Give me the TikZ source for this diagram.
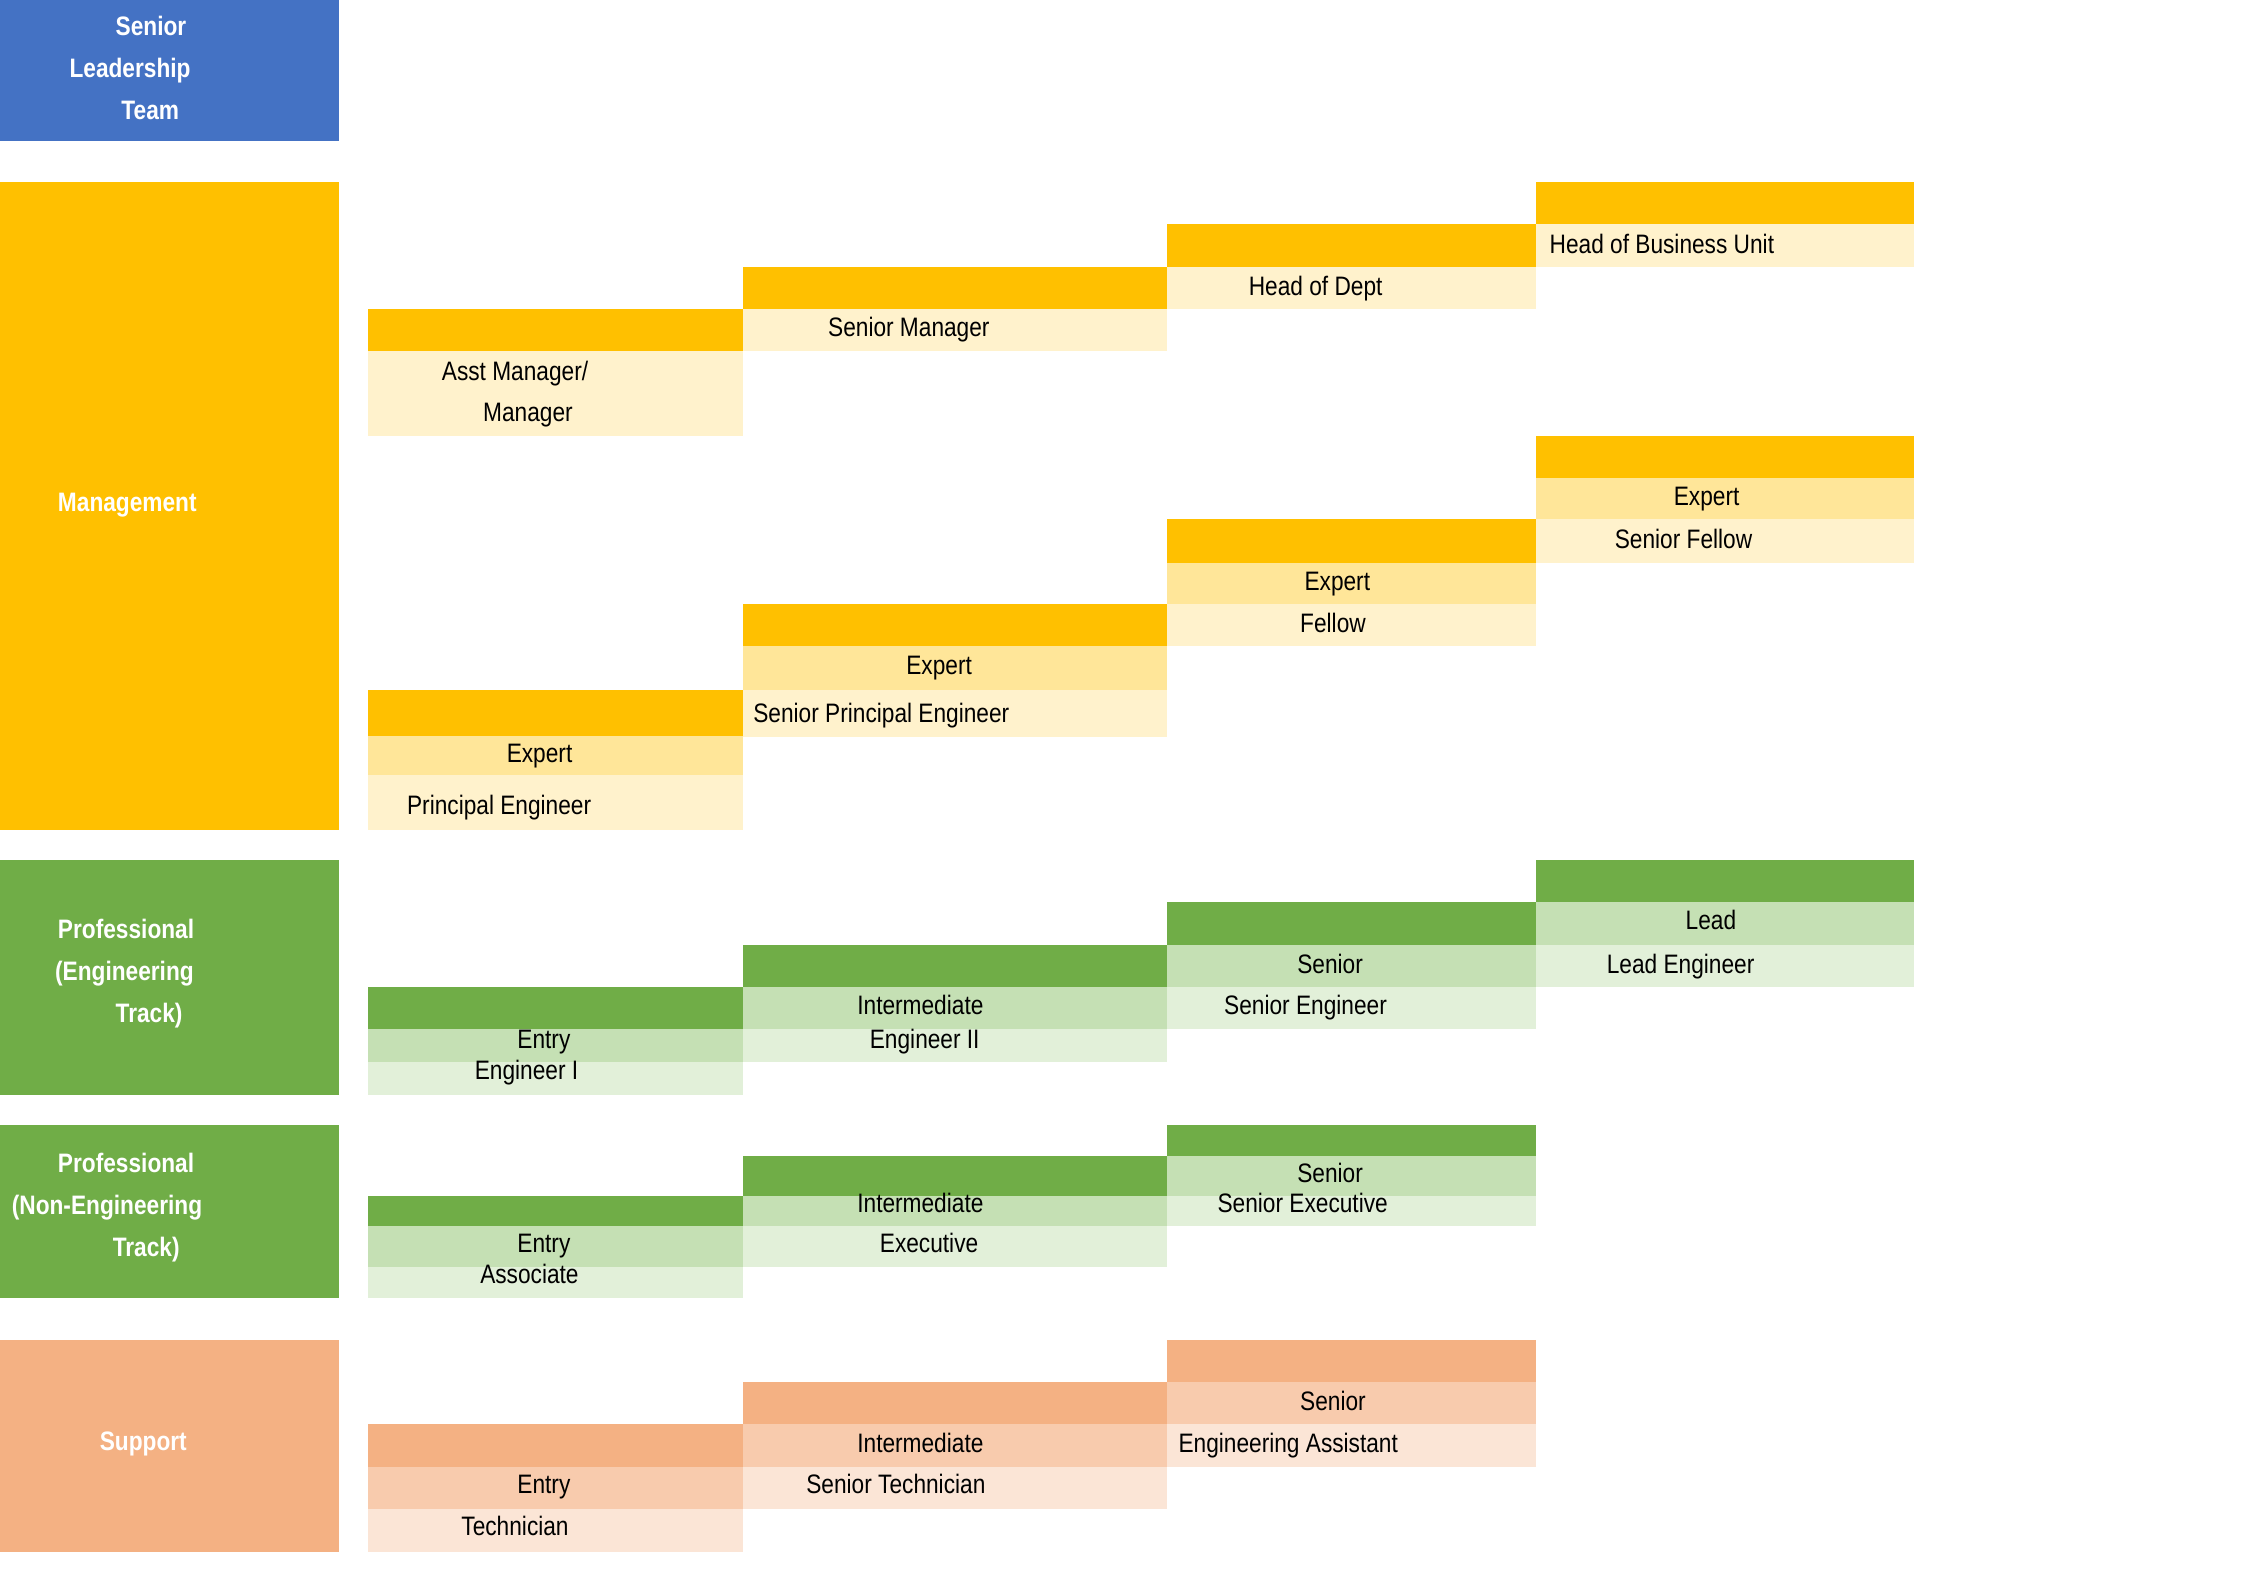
\documentclass[tikz,border=0pt]{standalone}
\usepackage{fontspec}
\setmainfont{Liberation Sans}[FakeStretch=0.85]
\usepackage{tikz}

\definecolor{sltblue}{HTML}{4472C4}
\definecolor{mgmtdark}{HTML}{FFC000}
\definecolor{mgmtmid}{HTML}{FFE699}
\definecolor{mgmtlight}{HTML}{FFF2CC}
\definecolor{profdark}{HTML}{70AD47}
\definecolor{profmid}{HTML}{C5E0B4}
\definecolor{proflight}{HTML}{E2F0D9}
\definecolor{suppdark}{HTML}{F4B183}
\definecolor{suppmid}{HTML}{F8CBAD}
\definecolor{supplight}{HTML}{FBE5D6}

\begin{document}
\begin{tikzpicture}[x=1pt,y=-1pt,
	cell/.style={rectangle,anchor=north west,inner sep=0pt,outer sep=0pt},
	colA/.style={cell,minimum width=260pt},
	colB/.style={cell,minimum width=294pt},
	colC/.style={cell,minimum width=256pt},
	colD/.style={cell,minimum width=262pt},
	catbox/.style={cell,minimum width=235pt},
	lbl/.style={inner sep=0pt,font=\fontsize{18.5}{29}\selectfont,text height=16pt,text depth=3pt},
	catlbl/.style={inner sep=0pt,text=white,font=\fontsize{18.5}{29}\selectfont\bfseries,align=left}]
	\useasboundingbox (0,0) rectangle (1568,1096);

	% category boxes
	\node[catbox,fill=sltblue,minimum height=98pt] (slt) at (0,0) {};
	\node[catbox,fill=mgmtdark,minimum height=449pt] (mgmt) at (0,126) {};
	\node[catbox,fill=profdark,minimum height=163pt] (proeng) at (0,596) {};
	\node[catbox,fill=profdark,minimum height=120pt] (pronon) at (0,780) {};
	\node[catbox,fill=suppdark,minimum height=147pt] (supp) at (0,929) {};
	\node[catlbl,anchor=west] (sltT) at (48,47) {\hspace*{32pt}Senior\\Leadership\\\hspace*{36pt}Team};
	\node[catlbl,anchor=west] (mgmtT) at (40,350) {Management};
	\node[catlbl,anchor=west] (proengT) at (38,675) {\hspace*{2pt}Professional\\(Engineering\\\hspace*{42pt}Track)};
	\node[catlbl,anchor=west] (prononT) at (8,837) {\hspace*{32pt}Professional\\(Non-Engineering\\\hspace*{70pt}Track)};
	\node[catlbl,anchor=west] (suppT) at (69,1001) {Support};

	% management ladder
	\node[colD,fill=mgmtdark,minimum height=29pt] (m4bar) at (1065,126) {};
	\node[colD,fill=mgmtlight,minimum height=30pt] (m4low) at (1065,155) {};
	\node[colC,fill=mgmtdark,minimum height=30pt] (m3bar) at (809,155) {};
	\node[colC,fill=mgmtlight,minimum height=29pt] (m3low) at (809,185) {};
	\node[colB,fill=mgmtdark,minimum height=29pt] (m2bar) at (515,185) {};
	\node[colB,fill=mgmtlight,minimum height=29pt] (m2low) at (515,214) {};
	\node[colA,fill=mgmtdark,minimum height=29pt] (m1bar) at (255,214) {};
	\node[colA,fill=mgmtlight,minimum height=59pt] (m1low) at (255,243) {};
	\node[lbl,anchor=west] (m4T) at (1074,169) {Head of Business Unit};
	\node[lbl] (m3T) at (912,198) {Head of Dept};
	\node[lbl] (m2T) at (630,227) {Senior Manager};
	\node[lbl] (m1T) at (357,257) {Asst Manager/};
	\node[lbl] (m1U) at (366,286) {Manager};

	% expert ladder
	\node[colD,fill=mgmtdark,minimum height=29pt] (x4bar) at (1065,302) {};
	\node[colD,fill=mgmtmid,minimum height=29pt] (x4mid) at (1065,331) {};
	\node[colD,fill=mgmtlight,minimum height=30pt] (x4low) at (1065,360) {};
	\node[colC,fill=mgmtdark,minimum height=30pt] (x3bar) at (809,360) {};
	\node[colC,fill=mgmtmid,minimum height=29pt] (x3mid) at (809,390) {};
	\node[colC,fill=mgmtlight,minimum height=29pt] (x3low) at (809,419) {};
	\node[colB,fill=mgmtdark,minimum height=29pt] (x2bar) at (515,419) {};
	\node[colB,fill=mgmtmid,minimum height=30pt] (x2mid) at (515,448) {};
	\node[colB,fill=mgmtlight,minimum height=33pt] (x2low) at (515,478) {};
	\node[colA,fill=mgmtdark,minimum height=32pt] (x1bar) at (255,478) {};
	\node[colA,fill=mgmtmid,minimum height=27pt] (x1mid) at (255,510) {};
	\node[colA,fill=mgmtlight,minimum height=38pt] (x1low) at (255,537) {};
	\node[lbl] (x4T) at (1183,344) {Expert};
	\node[lbl] (x4U) at (1167,374) {Senior Fellow};
	\node[lbl] (x3T) at (927,403) {Expert};
	\node[lbl] (x3U) at (924,432) {Fellow};
	\node[lbl] (x2T) at (651,461) {Expert};
	\node[lbl,anchor=west] (x2U) at (522,494) {Senior Principal Engineer};
	\node[lbl] (x1T) at (374,522) {Expert};
	\node[lbl] (x1U) at (346,558) {Principal Engineer};

	% professional, engineering track
	\node[colD,fill=profdark,minimum height=29pt] (g4bar) at (1065,596) {};
	\node[colD,fill=profmid,minimum height=30pt] (g4mid) at (1065,625) {};
	\node[colD,fill=proflight,minimum height=29pt] (g4low) at (1065,655) {};
	\node[colC,fill=profdark,minimum height=30pt] (g3bar) at (809,625) {};
	\node[colC,fill=profmid,minimum height=29pt] (g3mid) at (809,655) {};
	\node[colC,fill=proflight,minimum height=29pt] (g3low) at (809,684) {};
	\node[colB,fill=profdark,minimum height=29pt] (g2bar) at (515,655) {};
	\node[colB,fill=profmid,minimum height=29pt] (g2mid) at (515,684) {};
	\node[colB,fill=proflight,minimum height=23pt] (g2low) at (515,713) {};
	\node[colA,fill=profdark,minimum height=29pt] (g1bar) at (255,684) {};
	\node[colA,fill=profmid,minimum height=23pt] (g1mid) at (255,713) {};
	\node[colA,fill=proflight,minimum height=23pt] (g1low) at (255,736) {};
	\node[lbl] (g4T) at (1186,638) {Lead};
	\node[lbl] (g4U) at (1165,668) {Lead Engineer};
	\node[lbl] (g3T) at (922,668) {Senior};
	\node[lbl] (g3U) at (905,697) {Senior Engineer};
	\node[lbl] (g2T) at (638,697) {Intermediate};
	\node[lbl] (g2U) at (641,720) {Engineer II};
	\node[lbl] (g1T) at (377,720) {Entry};
	\node[lbl] (g1U) at (365,742) {Engineer I};

	% professional, non-engineering track
	\node[colC,fill=profdark,minimum height=21pt] (n3bar) at (809,780) {};
	\node[colC,fill=profmid,minimum height=28pt] (n3mid) at (809,801) {};
	\node[colC,fill=proflight,minimum height=21pt] (n3low) at (809,829) {};
	\node[colB,fill=profdark,minimum height=28pt] (n2bar) at (515,801) {};
	\node[colB,fill=profmid,minimum height=21pt] (n2mid) at (515,829) {};
	\node[colB,fill=proflight,minimum height=28pt] (n2low) at (515,850) {};
	\node[colA,fill=profdark,minimum height=21pt] (n1bar) at (255,829) {};
	\node[colA,fill=profmid,minimum height=28pt] (n1mid) at (255,850) {};
	\node[colA,fill=proflight,minimum height=22pt] (n1low) at (255,878) {};
	\node[lbl] (n3T) at (922,813) {Senior};
	\node[lbl] (n3U) at (903,834) {Senior Executive};
	\node[lbl] (n2T) at (638,834) {Intermediate};
	\node[lbl] (n2U) at (644,862) {Executive};
	\node[lbl] (n1T) at (377,862) {Entry};
	\node[lbl] (n1U) at (367,883) {Associate};

	% support
	\node[colC,fill=suppdark,minimum height=29pt] (s3bar) at (809,929) {};
	\node[colC,fill=suppmid,minimum height=29pt] (s3mid) at (809,958) {};
	\node[colC,fill=supplight,minimum height=30pt] (s3low) at (809,987) {};
	\node[colB,fill=suppdark,minimum height=29pt] (s2bar) at (515,958) {};
	\node[colB,fill=suppmid,minimum height=30pt] (s2mid) at (515,987) {};
	\node[colB,fill=supplight,minimum height=29pt] (s2low) at (515,1017) {};
	\node[colA,fill=suppdark,minimum height=30pt] (s1bar) at (255,987) {};
	\node[colA,fill=suppmid,minimum height=29pt] (s1mid) at (255,1017) {};
	\node[colA,fill=supplight,minimum height=30pt] (s1low) at (255,1046) {};
	\node[lbl] (s3T) at (924,971) {Senior};
	\node[lbl] (s3U) at (893,1000) {Engineering Assistant};
	\node[lbl] (s2T) at (638,1000) {Intermediate};
	\node[lbl] (s2U) at (621,1029) {Senior Technician};
	\node[lbl] (s1T) at (377,1029) {Entry};
	\node[lbl] (s1U) at (357,1058) {Technician};
\end{tikzpicture}
\end{document}
